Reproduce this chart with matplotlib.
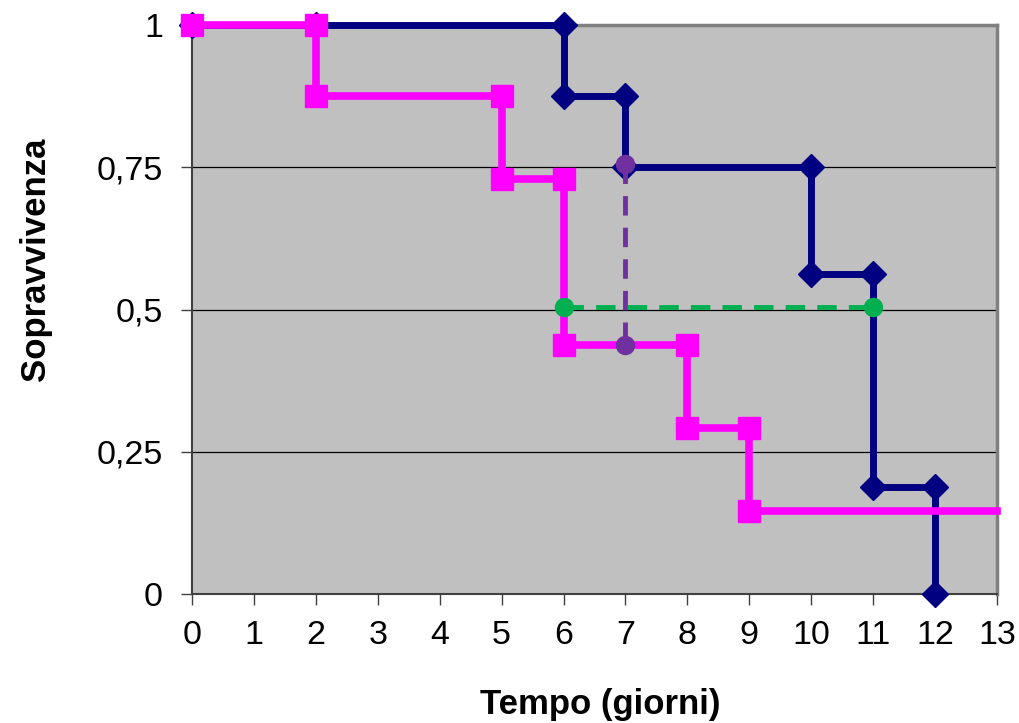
import matplotlib
matplotlib.use("Agg")
import matplotlib.pyplot as plt

# curva blu (diamanti)
blu_x = [0, 2, 6, 6, 7, 7, 10, 10, 11, 11, 12, 12]
blu_y = [1, 1, 1, 0.875, 0.875, 0.75, 0.75, 0.5625, 0.5625, 0.1875, 0.1875, 0]
# curva fucsia (quadrati)
fux_x = [0, 2, 2, 5, 5, 6, 6, 8, 8, 9, 9]
fux_y = [1, 1, 0.875, 0.875, 0.729, 0.729, 0.4375, 0.4375, 0.292, 0.292, 0.146]
fux_fine_x = [9, 13]
fux_fine_y = [0.146, 0.146]
# linee tratteggiate (mediana e differenza)
viola_x = [7, 7]
viola_y = [0.755, 0.4375]
verde_x = [6, 11]
verde_y = [0.505, 0.505]

x_ticks = list(range(0, 14))
y_ticks = [0, 0.25, 0.5, 0.75, 1]
y_labels = ["0", "0,25", "0,5", "0,75", "1"]

plt.rcParams["font.family"] = ["Liberation Sans", "DejaVu Sans"]

fig = plt.figure(figsize=(10.19, 7.23), dpi=100)
ax = fig.add_axes([0.1884, 0.1784, 0.7900, 0.7870])
ax.set_facecolor("#C0C0C0")

for yv in [0.25, 0.5, 0.75]:
    ax.axhline(yv, color="black", lw=0.9, zorder=1)

ax.plot(blu_x, blu_y, color="#000080", lw=5, marker="D", ms=13,
        mec="#000080", mfc="#000080", zorder=3, clip_on=False)
ax.plot(fux_x, fux_y, color="#FF00FF", lw=5.5, marker="s", ms=16,
        mec="#FF00FF", mfc="#FF00FF", zorder=4, clip_on=False)
ax.plot(fux_fine_x, fux_fine_y, color="#FF00FF", lw=5.5, zorder=4, clip_on=False)
ax.plot(viola_x, viola_y, color="#7030A0", lw=3.5, ls=(0, (4, 2.5)), marker="o",
        ms=13, zorder=5, clip_on=False)
ax.plot(verde_x, verde_y, color="#00B050", lw=3.5, ls=(0, (4, 2.5)), marker="o",
        ms=13, zorder=5, clip_on=False)

ax.set_xlim(0, 13)
ax.set_ylim(0, 1)
ax.set_xticks(x_ticks)
ax.set_yticks(y_ticks)
ax.set_yticklabels(y_labels)

for s in ["top", "right"]:
    ax.spines[s].set_color("#808080")
    ax.spines[s].set_linewidth(2.5)
for s in ["left", "bottom"]:
    ax.spines[s].set_color("#404040")
    ax.spines[s].set_linewidth(1.5)

ax.tick_params(axis="both", direction="out", length=8, width=1, color="#404040",
               labelsize=24.5)
ax.tick_params(axis="y", pad=13)
ax.tick_params(axis="x", pad=11)

ax.set_xlabel("Tempo (giorni)", fontsize=25, fontweight="bold")
ax.set_ylabel("Sopravvivenza", fontsize=25, fontweight="bold")
ax.xaxis.label.set_va("center")
ax.yaxis.label.set_va("center")
ax.xaxis.set_label_coords(0.507, -0.195)
ax.yaxis.set_label_coords(-0.195, 0.589)

plt.savefig("out.png", dpi=100)
plt.close()
